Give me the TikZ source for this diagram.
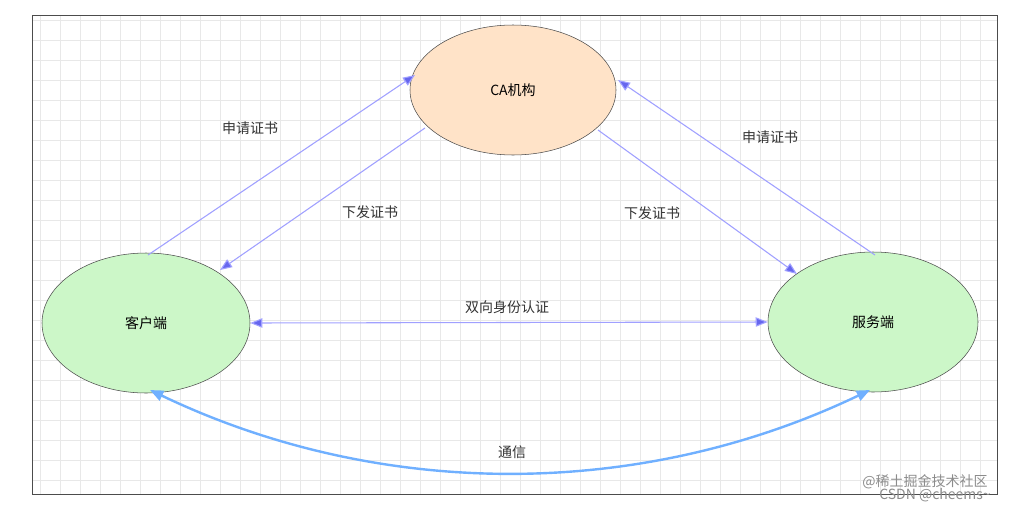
\documentclass[tikz,border=0pt]{standalone}
\usepackage{fontspec}
\setmainfont{Noto Sans CJK SC}
\usetikzlibrary{arrows.meta,shapes.geometric}
\definecolor{gridc}{HTML}{E8E8E8}
\definecolor{peach}{HTML}{FFE3C8}
\definecolor{mint}{HTML}{CCF7C8}
\definecolor{arr}{HTML}{A0A0FF}
\definecolor{tipc}{HTML}{6666EE}
\definecolor{comm}{HTML}{70B0FF}
\begin{document}
\begin{tikzpicture}[x=0.75pt,y=-0.75pt,
  ent/.style={ellipse,draw=black!70,thin,font=\fontsize{10.5}{12}\selectfont,inner sep=0},
  lab/.style={font=\fontsize{10.5}{12}\selectfont,text=black!80},
  conn/.style={draw=arr,thick,-{Triangle[length=9pt,width=7pt,fill=tipc]}}]
\useasboundingbox (0,0) rectangle (1027,511);
\fill[white] (0,0) rectangle (1027,511);
\draw[gridc,step=15pt] (32,15) grid (997,494);
\draw[black!70] (32,15) rectangle (997,494);
\node[ent,fill=peach,minimum width=154.5pt,minimum height=97.5pt] (ca) at (513,90) {CA机构};
\node[ent,fill=mint,minimum width=156pt,minimum height=105pt] (cl) at (146,323) {客户端};
\node[ent,fill=mint,minimum width=157.5pt,minimum height=105pt] (sv) at (873,322) {服务端};
\coordinate (c1) at (148,255); \coordinate (c2) at (415,75);
\coordinate (c3) at (425,128); \coordinate (c4) at (220,270);
\coordinate (c5) at (598,130); \coordinate (c6) at (797,274);
\coordinate (c7) at (875,255); \coordinate (c8) at (618,80);
\draw[conn] (c1) -- (c2);
\draw[conn] (c3) -- (c4);
\draw[conn] (c5) -- (c6);
\draw[conn] (c7) -- (c8);
\draw[conn,{Triangle[length=9pt,width=7pt,fill=tipc]}-{Triangle[length=9pt,width=7pt,fill=tipc]}] (cl.east) -- (sv.west);
\coordinate (k1) at (150,390); \coordinate (k2) at (870,390);
\draw[comm,line width=1.8pt,{Triangle[length=10pt,width=8pt]}-{Triangle[length=10pt,width=8pt]}] (k1) .. controls (380,500) and (640,500) .. (k2);
\node[lab] (l1) at (250,128) {申请证书};
\node[lab] (l2) at (370,212) {下发证书};
\node[lab] (l3) at (652,213) {下发证书};
\node[lab] (l4) at (770,137) {申请证书};
\node[lab] (l5) at (507,307) {双向身份认证};
\node[lab] (l6) at (512,452) {通信};
\node[font=\fontsize{10.5}{12}\selectfont,text=black!45] (w1) at (925,482) {@稀土掘金技术社区};
\node[font=\fontsize{10.5}{12}\selectfont,text=black!45] (w2) at (935,495) {CSDN @cheems\textasciitilde};
\end{tikzpicture}
\end{document}
